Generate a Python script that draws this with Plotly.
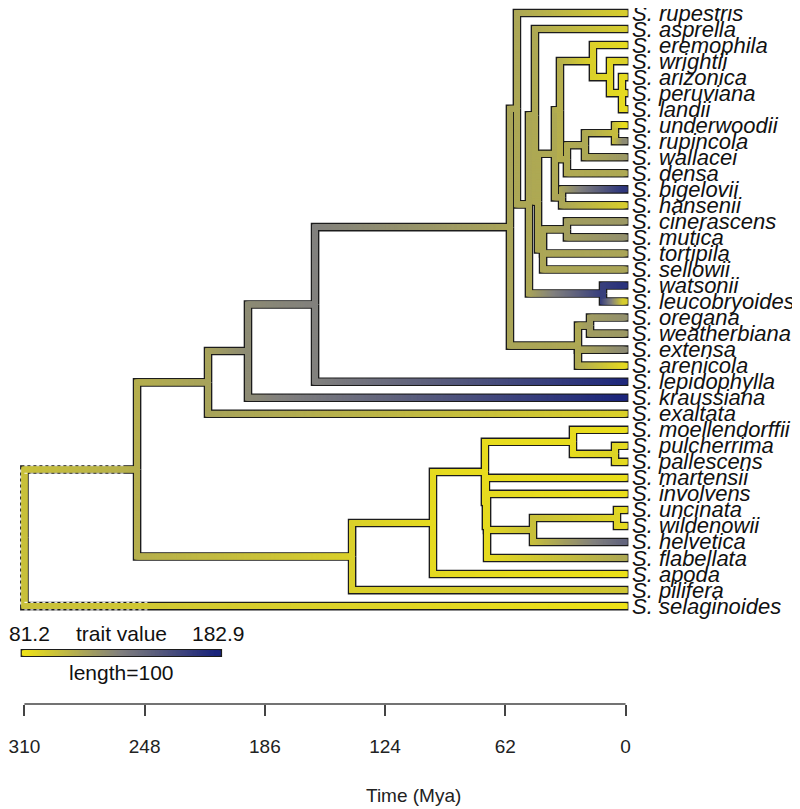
import plotly.graph_objects as go

# ---------------- data ----------------
tip_names = ["rupestris", "asprella", "eremophila", "wrightii", "arizonica", "peruviana",
             "landii", "underwoodii", "rupincola", "wallacei", "densa", "bigelovii",
             "hansenii", "cinerascens", "mutica", "tortipila", "sellowii", "watsonii",
             "leucobryoides", "oregana", "weatherbiana", "extensa", "arenicola",
             "lepidophylla", "kraussiana", "exaltata", "moellendorffii", "pulcherrima",
             "pallescens", "martensii", "involvens", "uncinata", "wildenowii", "helvetica",
             "flabellata", "apoda", "pilifera", "selaginoides"]
tip_traits = [93.4, 93.4, 86.3, 91.4, 86.3, 86.3,
              86.3, 85.3, 127.0, 119.8, 111.7, 172.7,
              93.4, 119.8, 123.9, 113.7, 113.7, 174.8,
              93.4, 123.9, 119.8, 127.0, 87.3,
              179.9, 181.9, 91.4, 84.3, 86.3,
              86.3, 84.3, 84.3, 86.3, 86.3, 147.3,
              111.7, 83.2, 96.5, 82.2]

node_names = ["root", "N137", "N208", "N248", "N315", "N0", "N1", "N2", "N3", "N4", "N5",
              "N6", "N7", "N7b", "N9", "A", "B", "C", "E", "F", "Ncin", "Nwat", "Nar", "Nore",
              "N352", "Napoda", "Nbig", "Nr", "Nr2", "Nmoe", "Npal", "Nunc", "Nuw"]
node_children = ["N137 selaginoides", "N208 N352", "N248 exaltata", "N315 kraussiana",
                 "N0 lepidophylla", "N1 Nar", "rupestris N2", "N3 Nwat", "asprella N4",
                 "N6 N5", "Ncin tortipila sellowii", "N7 N9", "A N7b", "E densa",
                 "bigelovii hansenii", "eremophila B", "wrightii C", "arizonica peruviana landii",
                 "F wallacei", "underwoodii rupincola", "cinerascens mutica",
                 "watsonii leucobryoides", "Nore extensa arenicola", "oregana weatherbiana",
                 "Napoda pilifera", "Nbig apoda", "Nmoe Nr", "martensii Nr2",
                 "involvens Nunc flabellata", "moellendorffii Npal", "pulcherrima pallescens",
                 "Nuw helvetica", "uncinata wildenowii"]
node_ages = [310.0, 251.9, 215.3, 194.7, 160.1, 59.6, 56.0, 49.8, 46.7, 45.1, 42.5,
             36.4, 33.8, 30.2, 32.7, 16.8, 8.0, 1.8, 20.9, 5.4, 30.2, 11.6, 24.5, 18.3,
             141.0, 99.3, 72.5, 72.0, 71.4, 27.1, 5.4, 47.7, 4.4]
node_traits = [99.5, 108.7, 114.8, 127.0, 132.0, 113.7, 112.7, 112.7, 111.7, 111.7, 112.7,
               111.7, 108.7, 110.7, 113.7, 91.4, 88.3, 86.3, 111.7, 101.5, 116.8, 167.6,
               111.7, 117.8, 91.4, 86.3, 85.3, 85.3, 86.3, 85.3, 89.3, 99.5, 89.3]

time_ticks = [310, 248, 186, 124, 62, 0]
trait_range = [81.2, 182.9]
legend_length = 100
axis_title = "Time (Mya)"

# ---------------- geometry helpers ----------------
OFF = 8               # page body margin of the browser
W, H = 800, 809
PX = 1.939            # pixels per Mya
X0 = 625.5 - OFF      # pixel of age 0 inside the figure
TOP, STEP = 13.0 - OFF, 16.03   # pixel of tip 1, tip spacing


def ypx(py):  # reference pixel row -> y data
    return 1 + (py - OFF - TOP) / STEP


x_range = [X0 / PX, -(W - X0) / PX]
y_range = [1 + (H - TOP) / STEP, 1 + (0 - TOP) / STEP]

age = {n: 0.0 for n in tip_names}
age.update(zip(node_names, node_ages))
trait = dict(zip(tip_names, tip_traits))
trait.update(zip(node_names, node_traits))
children = {n: c.split() for n, c in zip(node_names, node_children)}
tips = set(tip_names)
ypos = {n: i + 1 for i, n in enumerate(tip_names)}


def gety(n):
    if n in ypos:
        return ypos[n]
    ys = [gety(c) for c in children[n]]
    ypos[n] = (min(ys) + max(ys)) / 2
    return ypos[n]


gety("root")

colorscale = [[0.0, "rgb(240,228,22)"], [0.5, "rgb(130,129,126)"], [1.0, "rgb(26,36,124)"]]

ox, oy = [], []
cx, cy, cc = [], [], []
for n in node_names:
    ch = children[n]
    ys_ = [ypos[c] for c in ch]
    y0, y1 = min(ys_), max(ys_)
    k = int((y1 - y0) / 0.04) + 1
    for j in range(k + 1):
        cx.append(age[n]); cy.append(y0 + (y1 - y0) * j / k); cc.append(trait[n])
    for c in ch:
        end_o = -1.5 if c in tips else age[c]
        ox += [age[n], age[n], end_o, None]
        oy += [ypos[n], ypos[c], ypos[c], None]
        a0 = age[n]
        a1 = 0.3 if c in tips else age[c]
        k = int((a0 - a1) / 0.45) + 1
        for j in range(k + 1):
            f = j / k
            cx.append(a0 + (a1 - a0) * f); cy.append(ypos[c])
            cc.append(trait[n] + (trait[c] - trait[n]) * f)

fig = go.Figure()
fig.add_trace(go.Scatter(x=ox, y=oy, mode="lines", line=dict(color="#1c1c1c", width=8.6),
                         hoverinfo="skip", showlegend=False))
fig.add_trace(go.Scatter(x=cx, y=cy, mode="markers",
                         marker=dict(symbol="square", size=5.6, color=cc, colorscale=colorscale,
                                     cmin=trait_range[0], cmax=trait_range[1], line=dict(width=0)),
                         hoverinfo="skip", showlegend=False))

# dotted light artefacts near the root
rt = age["root"]
dy = 3.8 / STEP
dx = 3.8 / PX
wx, wy = [], []
for yy in (ypos["N137"] - dy, ypos["N137"] + dy):
    wx += [rt, rt - 52, None]; wy += [yy, yy, None]
for yy in (ypos["selaginoides"] - dy, ypos["selaginoides"] + dy):
    wx += [rt, rt - 64, None]; wy += [yy, yy, None]
wx += [rt + dx, rt + dx, None]; wy += [ypos["N137"], ypos["selaginoides"], None]
fig.add_trace(go.Scatter(x=wx, y=wy, mode="lines",
                         line=dict(color="rgba(255,255,255,0.85)", width=1.2, dash="dot"),
                         hoverinfo="skip", showlegend=False))

# colour legend bar
leg_y = ypx(653)
lx0, lx1 = time_ticks[0], time_ticks[0] - legend_length
fig.add_trace(go.Scatter(x=[lx0 + 1.95, lx1 - 1.95], y=[leg_y, leg_y], mode="lines",
                         line=dict(color="#1c1c1c", width=8), hoverinfo="skip", showlegend=False))
nb = 240
bx = [lx0 + (lx1 - lx0) * j / nb for j in range(nb + 1)]
bc = [trait_range[0] + (trait_range[1] - trait_range[0]) * j / nb for j in range(nb + 1)]
fig.add_trace(go.Scatter(x=bx, y=[leg_y] * len(bx), mode="markers",
                         marker=dict(symbol="square", size=5.2, color=bc, colorscale=colorscale,
                                     cmin=trait_range[0], cmax=trait_range[1], line=dict(width=0)),
                         hoverinfo="skip", showlegend=False))

# time axis line (ticks come from the x axis itself)
axis_y = ypx(704)
fig.add_trace(go.Scatter(x=[time_ticks[0], time_ticks[-1]], y=[axis_y, axis_y], mode="lines",
                         line=dict(color="#444", width=1.5), hoverinfo="skip", showlegend=False))

font_main = "Liberation Sans, Arial, sans-serif"
ann = []
for n in tip_names:
    ann.append(dict(x=-2.3, y=ypos[n], xref="x", yref="y", text=f"<i>S. {n}</i>",
                    showarrow=False, xanchor="left", yanchor="middle",
                    font=dict(family=font_main, size=22, color="#111")))
lab_y = ypx(633)
ann.append(dict(x=lx0 - 5.5 / PX, y=lab_y, text=f"{trait_range[0]}", showarrow=False, xanchor="center",
                yanchor="middle", font=dict(family=font_main, size=21, color="#111")))
ann.append(dict(x=(lx0 + lx1) / 2, y=lab_y, text="trait value", showarrow=False, xanchor="center",
                yanchor="middle", font=dict(family=font_main, size=21, color="#111")))
ann.append(dict(x=lx1, y=lab_y, text=f"{trait_range[1]}", showarrow=False, xanchor="center",
                yanchor="middle", font=dict(family=font_main, size=21, color="#111")))
ann.append(dict(x=(lx0 + lx1) / 2, y=ypx(672), text=f"length={legend_length}", showarrow=False,
                xanchor="center", yanchor="middle", font=dict(family=font_main, size=21, color="#111")))
ann.append(dict(x=(414 - OFF) / W, y=1 - (795 - OFF) / H, xref="paper", yref="paper", text=axis_title,
                showarrow=False, xanchor="center", yanchor="middle",
                font=dict(family=font_main, size=19, color="#222")))

fig.update_layout(
    width=W, height=H, margin=dict(l=0, r=0, t=0, b=0, autoexpand=False),
    paper_bgcolor="white", plot_bgcolor="white",
    xaxis=dict(range=x_range, fixedrange=True, showline=False, showgrid=False, zeroline=False,
               anchor="free", position=1 - (704 - OFF) / H, side="bottom",
               ticks="outside", ticklen=11, tickwidth=1.5, tickcolor="#444",
               tickmode="array", tickvals=time_ticks, ticktext=[str(t) for t in time_ticks],
               tickfont=dict(family=font_main, size=19, color="#222"), ticklabelstandoff=14,
               automargin=False),
    yaxis=dict(range=y_range, visible=False, fixedrange=True),
    annotations=ann,
    showlegend=False,
)

fig.write_html("out.html")
